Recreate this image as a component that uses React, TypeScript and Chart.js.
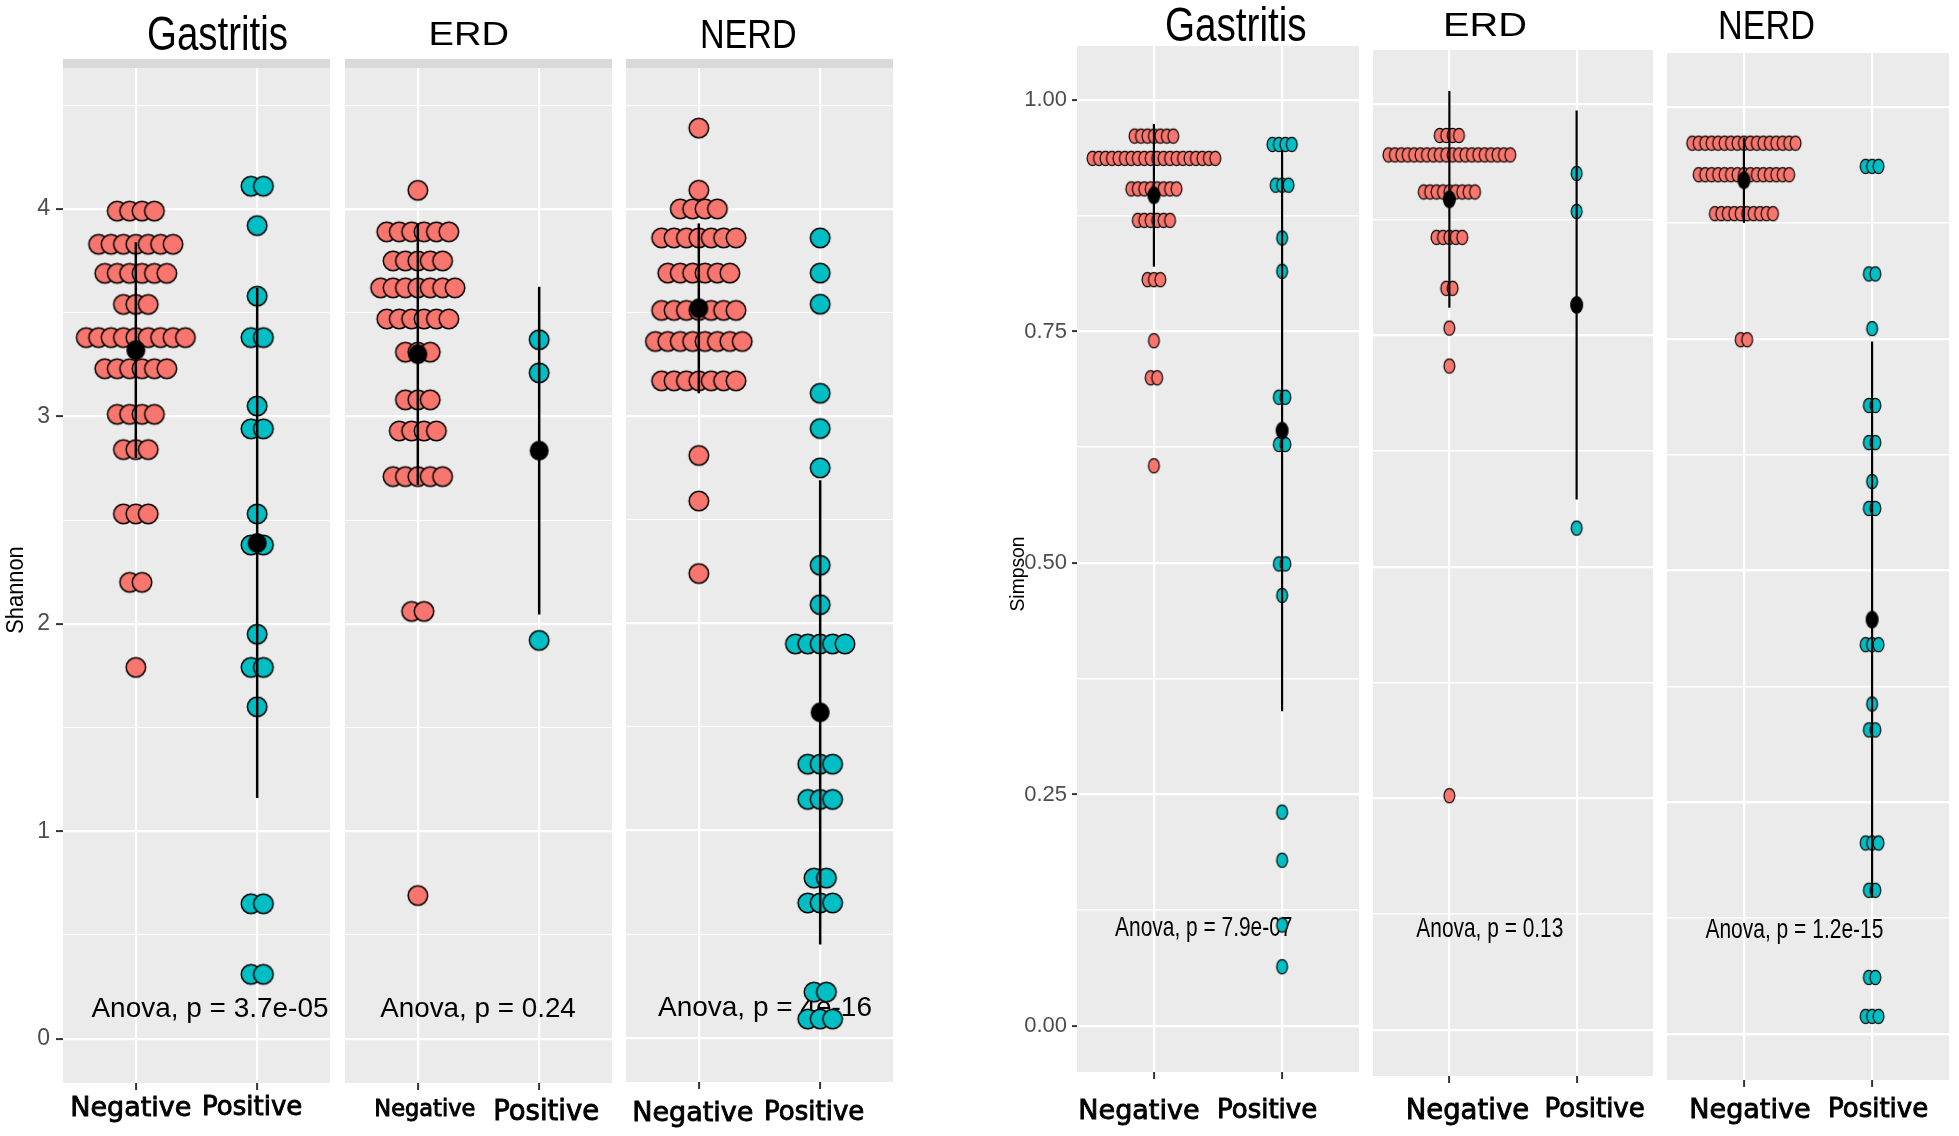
import React, { useEffect, useRef } from 'react';
import { Chart, registerables } from 'chart.js';

Chart.register(...registerables);

// ---------------- data ----------------
const categories = ['Negative', 'Positive'];
const facetTitles = ['Gastritis', 'ERD', 'NERD'];

// Shannon: [value, number of stacked dots]
const shannonGastritisNeg = [[3.99, 4], [3.83, 7], [3.69, 6], [3.54, 3], [3.38, 9], [3.23, 6], [3.01, 4], [2.84, 3], [2.53, 3], [2.2, 2], [1.79, 1]];
const shannonGastritisPos = [[4.11, 2], [3.92, 1], [3.58, 1], [3.38, 2], [3.05, 1], [2.94, 2], [2.53, 1], [2.38, 2], [1.95, 1], [1.79, 2], [1.6, 1], [0.65, 2], [0.31, 2]];
const shannonErdNeg = [[4.09, 1], [3.89, 6], [3.75, 5], [3.62, 7], [3.47, 6], [3.31, 3], [3.08, 3], [2.93, 4], [2.71, 5], [2.06, 2], [0.69, 1]];
const shannonErdPos = [[3.37, 1], [3.21, 1], [1.92, 1]];
const shannonNerdNeg = [[4.39, 1], [4.09, 1], [4.0, 4], [3.86, 7], [3.69, 6], [3.51, 7], [3.36, 8], [3.17, 7], [2.81, 1], [2.59, 1], [2.24, 1]];
const shannonNerdPos = [[3.86, 1], [3.69, 1], [3.54, 1], [3.11, 1], [2.94, 1], [2.75, 1], [2.28, 1], [2.09, 1], [1.9, 5], [1.32, 3], [1.15, 3], [0.77, 2], [0.65, 3], [0.22, 2], [0.09, 3]];
const shannonMeans = [[3.32, 2.39], [3.3, 2.835], [3.52, 1.57]];
const shannonSD = [[0.52, 1.23], [0.63, 0.79], [0.41, 1.12]];
const shannonPValues = ['3.7e-05', '0.24', '4e-16'];
const shannonTicks = [0, 1, 2, 3, 4];
const shannonMinorTicks = [0.5, 1.5, 2.5, 3.5, 4.5];

// Simpson: [value, number of stacked dots]
const simpsonGastritisNeg = [[0.961, 7], [0.937, 20], [0.904, 8], [0.87, 6], [0.806, 3], [0.74, 1], [0.7, 2], [0.605, 1]];
const simpsonGastritisPos = [[0.952, 4], [0.908, 3], [0.851, 1], [0.815, 1], [0.679, 2], [0.628, 2], [0.499, 2], [0.465, 1], [0.231, 1], [0.179, 1], [0.109, 1], [0.064, 1]];
const simpsonErdNeg = [[0.966, 4], [0.945, 20], [0.905, 9], [0.856, 5], [0.801, 2], [0.758, 1], [0.717, 1], [0.253, 1]];
const simpsonErdPos = [[0.925, 1], [0.884, 1], [0.542, 1]];
const simpsonNerdNeg = [[0.961, 17], [0.927, 15], [0.885, 10], [0.749, 2]];
const simpsonNerdPos = [[0.936, 3], [0.82, 2], [0.761, 1], [0.678, 2], [0.638, 2], [0.596, 1], [0.567, 2], [0.42, 3], [0.356, 1], [0.328, 2], [0.206, 3], [0.155, 2], [0.061, 2], [0.019, 3]];
const simpsonMeans = [[0.897, 0.643], [0.897, 0.783], [0.921, 0.447]];
const simpsonSD = [[0.077, 0.303], [0.117, 0.21], [0.046, 0.3]];
const simpsonPValues = ['7.9e-07', '0.13', '1.2e-15'];
const simpsonTicks = [0, 0.25, 0.5, 0.75, 1];
const simpsonMinorTicks = [0.125, 0.375, 0.625, 0.875];

// ---------------- styles / layout ----------------
const PAGE_W = 1959;
const PAGE_H = 1136;
const SANS = "'Liberation Sans', Arial, sans-serif";
const NARROW = "'Liberation Sans Narrow', 'Arial Narrow', 'Liberation Sans', sans-serif";
const WIDE = "'DejaVu Sans', sans-serif";
const NEG_FILL = '#F8766D';
const POS_FILL = '#00BFC4';

const FIGS: any = {
  L: {
    yTitle: 'Shannon', yMin: -0.214, yMax: 4.68, ticks: shannonTicks, minor: shannonMinorTicks,
    fmt: (v: number) => String(v), majorW: 2.2, minorW: 1.1, yTickLen: 7, yTickPad: 6, yTickSize: 23,
    dotW: 19.5, dotH: 19.5, dotLW: 1.5, spacing: 0.1022, meanW: 19, meanH: 20, lineW: 2.5,
    strip: [59, 68], annSize: 28,
  },
  R: {
    yTitle: 'Simpson', yMin: -0.0497, yMax: 1.0583, ticks: simpsonTicks, minor: simpsonMinorTicks,
    fmt: (v: number) => v.toFixed(2), majorW: 2.2, minorW: 1.5, yTickLen: 5, yTickPad: 5, yTickSize: 22,
    dotW: 10.8, dotH: 14.3, dotLW: 1.2, spacing: 0.0504, meanW: 13, meanH: 18, lineW: 2.2,
    strip: null, annSize: 28,
  },
};

const PANELS: any[] = [
  { id: 'L1', fig: 'L', facet: 0, neg: shannonGastritisNeg, pos: shannonGastritisPos, means: shannonMeans, sd: shannonSD, p: shannonPValues,
    L: 63, R: 330, T: 68, B: 1083, cL: 0, cR: 338, showY: true, labelOffset: -5, labelPad: 2.5, negSize: 27, posSize: 26,
    title: { x: 217.5, y: 50, size: 47.5, w: 141 }, ann: { x: 1.611, y: 0.104, w: 237 }, yTitle: { x: 17, y: 590, size: 23, w: 87.5 } },
  { id: 'L2', fig: 'L', facet: 1, neg: shannonErdNeg, pos: shannonErdPos, means: shannonMeans, sd: shannonSD, p: shannonPValues,
    L: 345, R: 612, T: 68, B: 1083, cL: 338, cR: 619, showY: false, labelOffset: 7, labelPad: 6.5, negSize: 22.5, posSize: 27.5,
    title: { x: 468.8, y: 44.6, size: 32.4, w: 80.4 }, ann: { x: 1.496, y: 0.104, w: 195.6 } },
  { id: 'L3', fig: 'L', facet: 2, neg: shannonNerdNeg, pos: shannonNerdPos, means: shannonMeans, sd: shannonSD, p: shannonPValues,
    L: 626, R: 893, T: 68, B: 1082, cL: 619, cR: 905, showY: false, labelOffset: -6, labelPad: 8.5, negSize: 27, posSize: 26,
    title: { x: 748.3, y: 48.2, size: 40, w: 96.7 }, ann: { x: 1.545, y: 0.106, w: 214 } },
  { id: 'R1', fig: 'R', facet: 0, neg: simpsonGastritisNeg, pos: simpsonGastritisPos, means: simpsonMeans, sd: simpsonSD, p: simpsonPValues,
    L: 1077, R: 1361, T: 46, B: 1072, cL: 1000, cR: 1366, showY: true, labelOffset: -15, labelPad: 17, negSize: 27, posSize: 26,
    title: { x: 1235.8, y: 41, size: 47.5, w: 141.7 }, ann: { x: 1.389, y: 0.0977, w: 177.3 }, yTitle: { x: 1018, y: 574, size: 20, w: 75 } },
  { id: 'R2', fig: 'R', facet: 1, neg: simpsonErdNeg, pos: simpsonErdPos, means: simpsonMeans, sd: simpsonSD, p: simpsonPValues,
    L: 1371, R: 1655, T: 50, B: 1076, cL: 1366, cR: 1660, showY: false, labelOffset: 18, labelPad: 12, negSize: 27.5, posSize: 26,
    title: { x: 1485, y: 35.7, size: 32.4, w: 84 }, ann: { x: 1.318, y: 0.1009, w: 147 } },
  { id: 'R3', fig: 'R', facet: 2, neg: simpsonNerdNeg, pos: simpsonNerdPos, means: simpsonMeans, sd: simpsonSD, p: simpsonPValues,
    L: 1665, R: 1949, T: 53, B: 1080, cL: 1660, cR: 1959, showY: false, labelOffset: 6, labelPad: 8, negSize: 27, posSize: 26,
    title: { x: 1766.5, y: 39.3, size: 40, w: 97 }, ann: { x: 1.394, y: 0.1031, w: 178 } },
];

// ---------------- helpers ----------------
function makeEllipse(w: number, h: number, fill: string, lw: number) {
  const pad = Math.ceil(lw) + 1;
  const c = document.createElement('canvas');
  c.width = Math.ceil(w + 2 * pad);
  c.height = Math.ceil(h + 2 * pad);
  const g = c.getContext('2d')!;
  g.beginPath();
  g.ellipse(c.width / 2, c.height / 2, w / 2, h / 2, 0, 0, Math.PI * 2);
  g.fillStyle = fill;
  g.fill();
  if (lw > 0) {
    g.lineWidth = lw;
    g.strokeStyle = '#000000';
    g.stroke();
  }
  return c;
}

function dotPoints(rows: number[][], cat: number, spacing: number) {
  const pts: { x: number; y: number }[] = [];
  rows.forEach(([v, n]) => {
    for (let k = 0; k < n; k++) pts.push({ x: cat + (k - (n - 1) / 2) * spacing, y: v });
  });
  return pts;
}

function drawFitted(ctx: CanvasRenderingContext2D, text: string, x: number, y: number, font: string, targetW: number | null, color: string, rot = 0, baseline: CanvasTextBaseline = 'alphabetic') {
  ctx.save();
  ctx.font = font;
  ctx.fillStyle = color;
  ctx.textAlign = 'center';
  ctx.textBaseline = baseline;
  const w = ctx.measureText(text).width;
  const sx = targetW ? targetW / w : 1;
  ctx.translate(x, y);
  if (rot) ctx.rotate(rot);
  ctx.scale(sx, 1);
  ctx.fillText(text, 0, 0);
  ctx.restore();
}

function buildChart(canvas: HTMLCanvasElement, p: any) {
  const fig = FIGS[p.fig];
  const leftExtra = p.L - p.cL;
  const rightExtra = p.cR - p.R;
  const bottomExtra = PAGE_H - p.B;
  const isMajor = (v: any) => typeof v === 'number' && fig.ticks.some((t: number) => Math.abs(t - v) < 1e-9);

  const negDot = makeEllipse(fig.dotW, fig.dotH, NEG_FILL, fig.dotLW);
  const posDot = makeEllipse(fig.dotW, fig.dotH, POS_FILL, fig.dotLW);
  const meanDot = makeEllipse(fig.meanW, fig.meanH, '#000000', 0);

  const datasets: any[] = [];
  [p.neg, p.pos].forEach((rows: number[][], i: number) => {
    datasets.push({
      data: dotPoints(rows, i + 1, fig.spacing),
      pointStyle: i === 0 ? negDot : posDot,
      pointRadius: 6,
      showLine: false,
      order: 3,
    });
  });
  [0, 1].forEach((i) => {
    const m = p.means[p.facet][i];
    const s = p.sd[p.facet][i];
    datasets.push({
      data: [{ x: i + 1, y: m - s }, { x: i + 1, y: m + s }],
      showLine: true,
      borderColor: '#000000',
      borderWidth: fig.lineW,
      pointRadius: 0,
      order: 2,
    });
    datasets.push({
      data: [{ x: i + 1, y: m }],
      pointStyle: meanDot,
      pointRadius: 6,
      showLine: false,
      order: 1,
    });
  });

  const panelPlugin = {
    id: 'panelDecor' + p.id,
    beforeDraw(chart: any) {
      const { ctx, chartArea: a } = chart;
      ctx.save();
      ctx.fillStyle = '#EBEBEB';
      ctx.fillRect(a.left, a.top, a.right - a.left, a.bottom - a.top);
      if (fig.strip) {
        ctx.fillStyle = '#D9D9D9';
        ctx.fillRect(a.left, fig.strip[0], a.right - a.left, fig.strip[1] - fig.strip[0]);
      }
      ctx.restore();
    },
    beforeDatasetsDraw(chart: any) {
      const { ctx, scales } = chart;
      const x = scales.x.getPixelForValue(p.ann.x);
      const y = scales.y.getPixelForValue(p.ann.y);
      drawFitted(ctx, 'Anova, p = ' + p.p[p.facet], x, y, `${fig.annSize}px ${SANS}`, p.ann.w, '#000000');
    },
    afterDraw(chart: any) {
      const { ctx } = chart;
      drawFitted(ctx, facetTitles[p.facet], p.title.x - p.cL, p.title.y, `${p.title.size}px ${SANS}`, p.title.w, '#000000');
      if (p.yTitle) {
        drawFitted(ctx, fig.yTitle, p.yTitle.x - p.cL, p.yTitle.y, `${p.yTitle.size}px ${SANS}`, p.yTitle.w, '#000000', -Math.PI / 2, 'middle');
      }
    },
  };

  return new Chart(canvas, {
    type: 'scatter',
    data: { datasets },
    options: {
      responsive: false,
      animation: false,
      devicePixelRatio: 1,
      events: [],
      layout: { padding: { top: p.T, left: p.showY ? 0 : leftExtra, right: rightExtra, bottom: 0 } },
      plugins: { legend: { display: false }, tooltip: { enabled: false }, title: { display: false } },
      scales: {
        x: {
          type: 'linear',
          position: 'bottom',
          min: 0.4,
          max: 2.6,
          afterBuildTicks: (s: any) => { s.ticks = [1, 2].map((v) => ({ value: v })); },
          afterFit: (s: any) => { s.height = bottomExtra; },
          grid: { color: '#FFFFFF', lineWidth: fig.majorW, drawTicks: true, tickLength: 7, tickWidth: 2, tickColor: '#333333' },
          border: { display: false },
          ticks: {
            autoSkip: false, maxRotation: 0, minRotation: 0,
            padding: p.labelPad, labelOffset: p.labelOffset, color: '#000000',
            textStrokeColor: '#000000', textStrokeWidth: 0.9,
            font: (c: any) => ({ family: WIDE, weight: 'normal', size: c.index === 0 ? p.negSize : p.posSize }),
            callback: (v: any) => categories[Math.round(v) - 1] ?? '',
          },
        },
        y: {
          type: 'linear',
          position: 'left',
          min: fig.yMin,
          max: fig.yMax,
          afterBuildTicks: (s: any) => {
            s.ticks = [...fig.ticks, ...fig.minor].sort((a: number, b: number) => a - b).map((v: number) => ({ value: v }));
          },
          afterFit: (s: any) => { s.width = p.showY ? leftExtra : 0; },
          grid: {
            color: '#FFFFFF',
            lineWidth: (c: any) => (isMajor(c.tick && c.tick.value) ? fig.majorW : fig.minorW),
            drawTicks: p.showY,
            tickLength: fig.yTickLen,
            tickWidth: 2,
            tickColor: (c: any) => (isMajor(c.tick && c.tick.value) ? '#333333' : 'rgba(0,0,0,0)'),
          },
          border: { display: false },
          ticks: {
            display: p.showY,
            autoSkip: false,
            padding: fig.yTickPad,
            color: '#4D4D4D',
            font: { family: NARROW, size: fig.yTickSize },
            callback: (v: any) => (isMajor(v) ? fig.fmt(v) : ''),
          },
        },
      },
    } as any,
    plugins: [panelPlugin],
  });
}

export default function App() {
  const refs = useRef<(HTMLCanvasElement | null)[]>([]);

  useEffect(() => {
    document.body.style.margin = '0';
    const charts = PANELS.map((p, i) => buildChart(refs.current[i] as HTMLCanvasElement, p));
    return () => charts.forEach((c) => c.destroy());
  }, []);

  return (
    <div style={{ position: 'absolute', left: 0, top: 0, width: PAGE_W, height: PAGE_H, background: '#FFFFFF', overflow: 'hidden' }}>
      {PANELS.map((p, i) => (
        <canvas
          key={p.id}
          ref={(el) => { refs.current[i] = el; }}
          width={p.cR - p.cL}
          height={PAGE_H}
          style={{ position: 'absolute', left: p.cL, top: 0, width: p.cR - p.cL, height: PAGE_H }}
        />
      ))}
    </div>
  );
}
